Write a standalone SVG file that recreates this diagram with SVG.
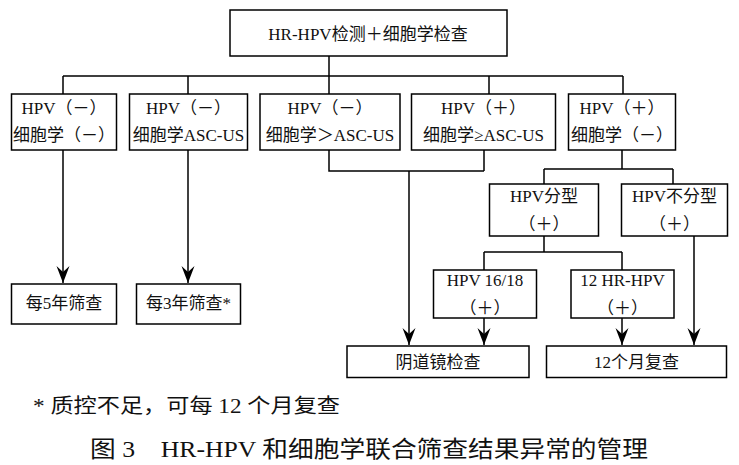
<svg xmlns="http://www.w3.org/2000/svg" width="739" height="465" viewBox="0 0 739 465">
<style>
.box{fill:#fff;stroke:#000;stroke-width:1.5}
.t{font-family:"Liberation Serif","Noto Sans CJK SC",serif;font-size:17px;fill:#111;text-anchor:middle}
.ln{fill:none;stroke:#000;stroke-width:1.5}
.note{font-family:"Liberation Serif","Noto Sans CJK SC",serif;font-size:20px;fill:#111}
.cap{font-family:"Liberation Serif","Noto Sans CJK SC",serif;font-size:23px;fill:#111}
</style>
<defs>
<marker id="ah" markerUnits="userSpaceOnUse" markerWidth="18" markerHeight="14" viewBox="-18 -7 18 14" refX="0" refY="0" orient="auto">
<path d="M0,0 L-17,-6.5 L-11,0 L-17,6.5 Z" fill="#000"/>
</marker>
</defs>
<g id="connectors">
<path class="ln" d="M329,56 V76 M63,76 H623 M63,76 V94 M188,76 V94 M329,76 V94 M489,76 V94 M623,76 V94"/>
<path class="ln" d="M329,150 V171 H484 M484,150 V171"/>
<path class="ln" d="M622,150 V169 M544,169 H673 M544,169 V184 M673,169 V184"/>
<path class="ln" d="M544,236 V252 M484,252 H622 M484,252 V270 M622,252 V270"/>
<path class="ln" d="M63,150 V283" marker-end="url(#ah)"/>
<path class="ln" d="M188,150 V283" marker-end="url(#ah)"/>
<path class="ln" d="M409,171 V345" marker-end="url(#ah)"/>
<path class="ln" d="M484,318 V345" marker-end="url(#ah)"/>
<path class="ln" d="M622,318 V345" marker-end="url(#ah)"/>
<path class="ln" d="M694,236 V345" marker-end="url(#ah)"/>
</g>
<g id="top"><rect class="box" x="230" y="10" width="277" height="46"/><text class="t" x="368" y="40">HR-HPV检测＋细胞学检查</text></g>
<g id="n1"><rect class="box" x="11.5" y="94" width="105" height="56"/><text class="t" x="64" y="114">HPV（－）</text><text class="t" x="64" y="141">细胞学（－）</text></g>
<g id="n2"><rect class="box" x="129.5" y="94" width="118" height="56"/><text class="t" x="188.5" y="114">HPV（－）</text><text class="t" x="188.5" y="141">细胞学ASC-US</text></g>
<g id="n3"><rect class="box" x="260" y="94" width="140" height="56"/><text class="t" x="330" y="114">HPV（－）</text><text class="t" x="330" y="141">细胞学＞ASC-US</text></g>
<g id="n4"><rect class="box" x="411.5" y="94" width="144" height="56"/><text class="t" x="483.5" y="114">HPV（＋）</text><text class="t" x="483.5" y="141">细胞学≥ASC-US</text></g>
<g id="n5"><rect class="box" x="568.5" y="94" width="107" height="56"/><text class="t" x="622" y="114">HPV（＋）</text><text class="t" x="622" y="141">细胞学（－）</text></g>
<g id="typed"><rect class="box" x="489.5" y="184" width="109" height="52"/><text class="t" x="544" y="202">HPV分型</text><text class="t" x="544" y="230">（＋）</text></g>
<g id="untyped"><rect class="box" x="621.5" y="184" width="106" height="52"/><text class="t" x="674.5" y="202">HPV不分型</text><text class="t" x="674.5" y="230">（＋）</text></g>
<g id="hpv1618"><rect class="box" x="433.5" y="270" width="103" height="48"/><text class="t" x="485" y="286">HPV 16/18</text><text class="t" x="485" y="314">（＋）</text></g>
<g id="hr12"><rect class="box" x="571" y="270" width="103" height="48"/><text class="t" x="622.5" y="286">12 HR-HPV</text><text class="t" x="622.5" y="314">（＋）</text></g>
<g id="y5"><rect class="box" x="11.5" y="284" width="105" height="40"/><text class="t" x="64" y="309">每5年筛查</text></g>
<g id="y3"><rect class="box" x="136.5" y="284" width="104" height="40"/><text class="t" x="188.5" y="309">每3年筛查*</text></g>
<g id="colpo"><rect class="box" x="347" y="346" width="182" height="31.5"/><text class="t" x="438" y="368">阴道镜检查</text></g>
<g id="m12"><rect class="box" x="546.5" y="346" width="180" height="31.5"/><text class="t" x="636.5" y="368">12个月复查</text></g>
<text class="note" x="33" y="413" textLength="307" lengthAdjust="spacingAndGlyphs">* 质控不足，可每 12 个月复查</text>
<text class="cap" x="90" y="457" textLength="558" lengthAdjust="spacingAndGlyphs">图 3　HR-HPV 和细胞学联合筛查结果异常的管理</text>
</svg>
